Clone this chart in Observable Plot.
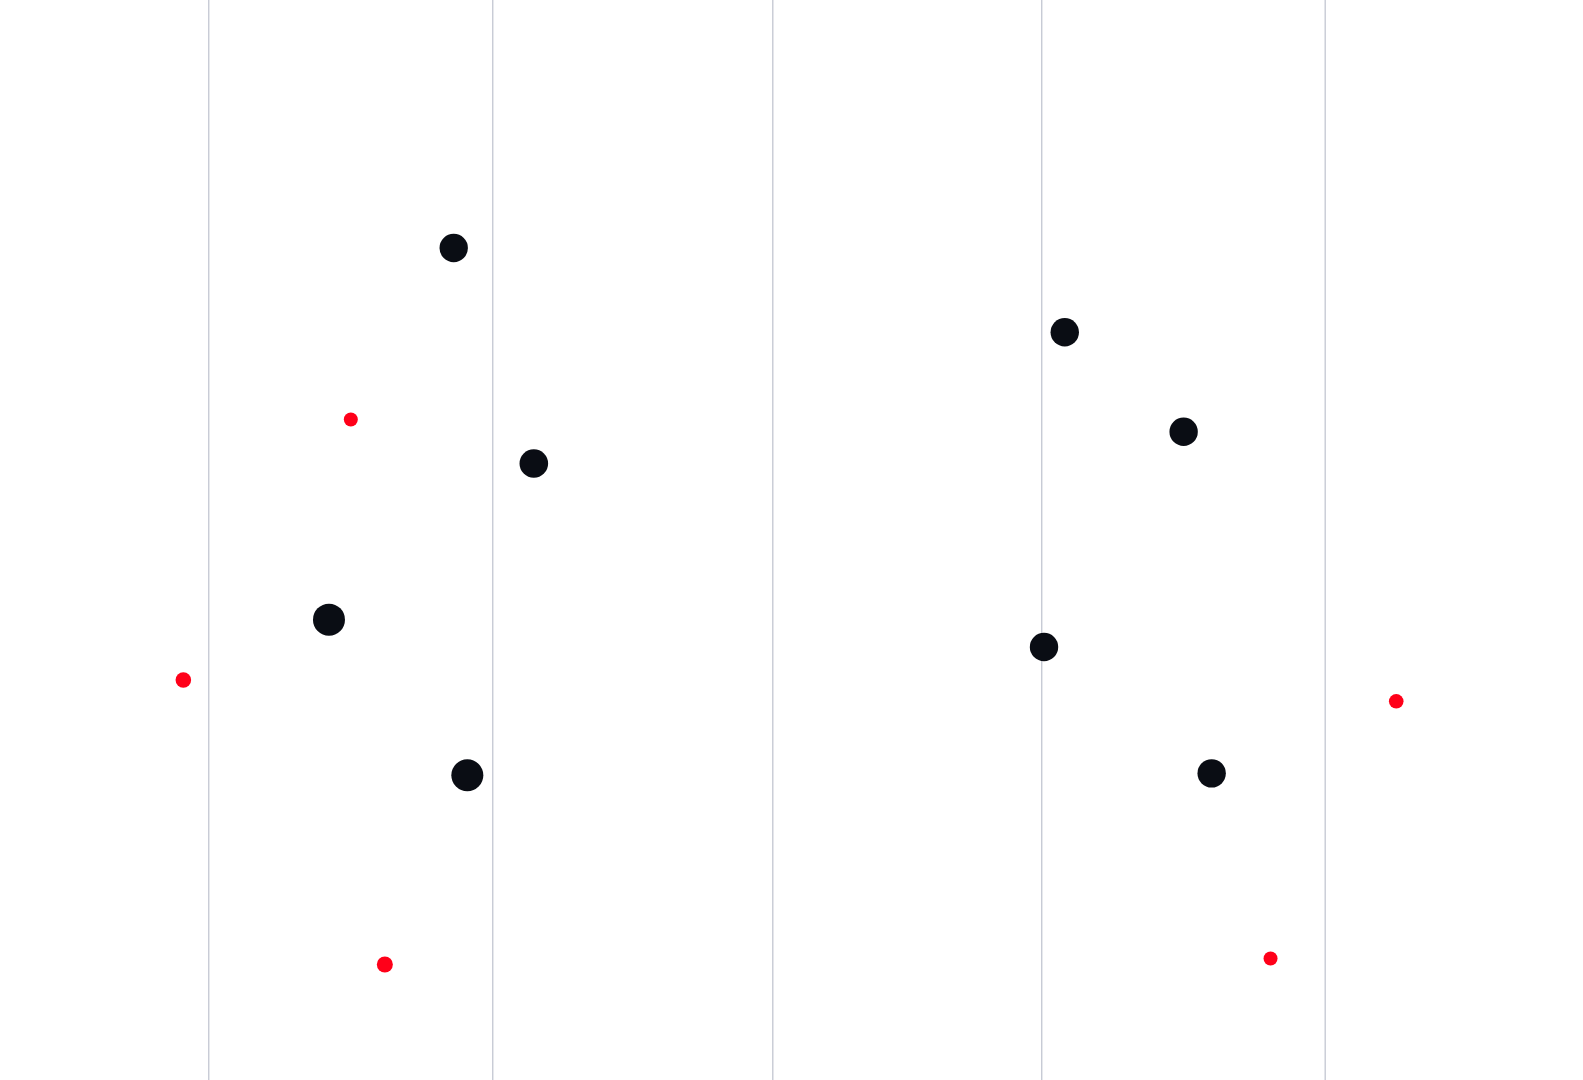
<!DOCTYPE html>
<html>
<head>
<meta charset="utf-8">
<script src="https://cdn.jsdelivr.net/npm/d3@7"></script>
<script src="https://cdn.jsdelivr.net/npm/@observablehq/plot@0.6"></script>
<style>
  html, body { margin: 0; padding: 0; background: #ffffff; overflow: hidden; }
  #chart svg { display: block; }
</style>
</head>
<body>
<div id="chart"></div>
<script>
// Grid line positions (x values)
const gridX = [13.16, 31.10, 48.79, 65.78, 83.68];

// Black series
const blackX = [28.63, 33.69, 20.75, 29.49, 67.23, 74.74, 65.92, 76.51];
const blackY = [77.08, 57.13, 42.67, 28.26, 69.28, 60.07, 40.14, 28.44];
const blackSize = [14.2, 14.3, 16.0, 16.0, 14.2, 14.2, 14.2, 14.2];

// Red series
const redX = [22.13, 11.55, 24.28, 88.17, 80.23];
const redY = [61.20, 37.08, 10.74, 35.11, 11.29];
const redSize = [7.0, 7.8, 8.0, 7.3, 7.0];

const black = blackX.map((x, i) => ({x, y: blackY[i], s: blackSize[i]}));
const red = redX.map((x, i) => ({x, y: redY[i], s: redSize[i]}));

const chart = Plot.plot({
  width: 1583,
  height: 1080,
  margin: 0,
  x: {domain: [0, 100], axis: null},
  y: {domain: [0, 100], axis: null},
  r: {type: "linear", domain: [0, 16], range: [0, 16]},
  marks: [
    Plot.ruleX(gridX, {stroke: "#b0b5c3", strokeWidth: 1}),
    Plot.dot(black, {x: "x", y: "y", r: "s", fill: "#0a0d14", stroke: "none"}),
    Plot.dot(red, {x: "x", y: "y", r: "s", fill: "#ff0019", stroke: "none"})
  ]
});
document.getElementById("chart").appendChild(chart);
</script>
</body>
</html>
